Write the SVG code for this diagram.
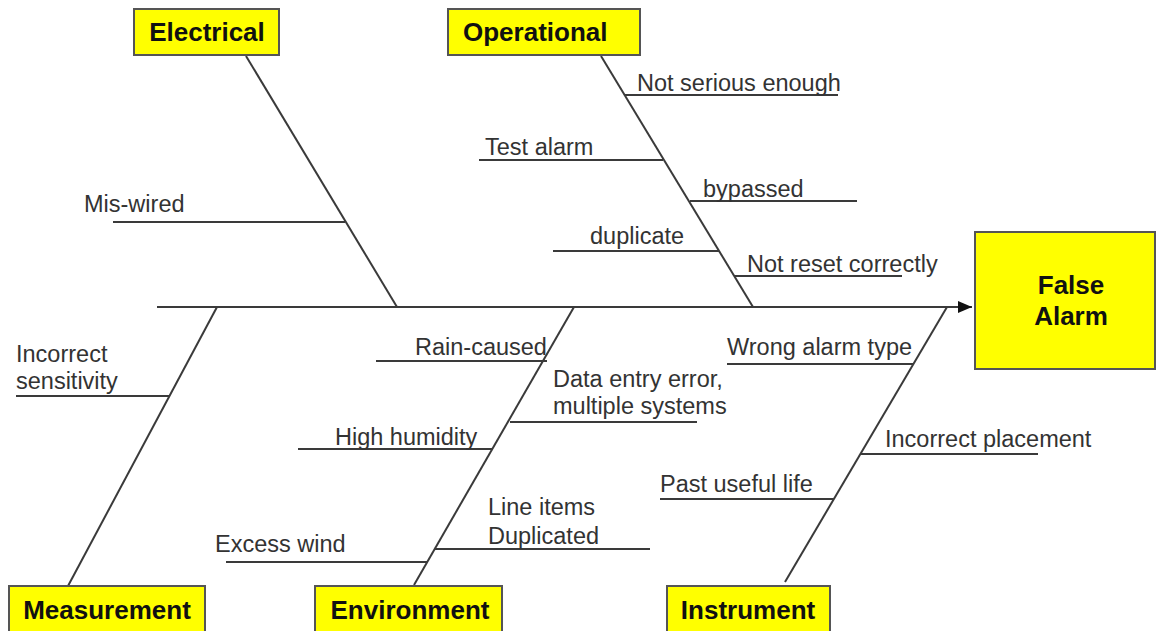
<svg xmlns="http://www.w3.org/2000/svg" width="1156" height="631" viewBox="0 0 1156 631">
  <defs>
    <style>
      .box { fill: #ffff00; stroke: #555555; stroke-width: 2; }
      .title { font-family: "Liberation Sans", Arial, sans-serif; font-weight: bold; font-size: 26px; fill: #111111; }
      .lbl { font-family: "Liberation Sans", Arial, sans-serif; font-size: 23.5px; fill: #333333; }
      .ln { stroke: #3a3a3a; stroke-width: 2; fill: none; }
    </style>
    <marker id="arrow" markerWidth="14" markerHeight="12" refX="14" refY="6" orient="auto" markerUnits="userSpaceOnUse">
      <path d="M0,0 L14,6 L0,12 Z" fill="#111111"/>
    </marker>
  </defs>
  <rect width="1156" height="631" fill="#ffffff"/>

  <!-- spine, category bones and cause lines -->
  <g id="connectors">
    <line class="ln" x1="157" y1="307" x2="972" y2="307" marker-end="url(#arrow)"/>

    <!-- Electrical -->
    <line class="ln" x1="246" y1="56" x2="397" y2="307"/>
    <line class="ln" x1="113" y1="222" x2="345" y2="222"/>

    <!-- Operational -->
    <line class="ln" x1="601" y1="56" x2="753" y2="307"/>
    <line class="ln" x1="625" y1="95" x2="838" y2="95"/>
    <line class="ln" x1="479" y1="160" x2="663" y2="160"/>
    <line class="ln" x1="690" y1="201" x2="857" y2="201"/>
    <line class="ln" x1="553" y1="251" x2="719" y2="251"/>
    <line class="ln" x1="734" y1="276" x2="902" y2="276"/>

    <!-- Measurement -->
    <line class="ln" x1="217" y1="307" x2="68" y2="586"/>
    <line class="ln" x1="16" y1="396" x2="169" y2="396"/>

    <!-- Environment -->
    <line class="ln" x1="574" y1="307" x2="414" y2="585"/>
    <line class="ln" x1="376" y1="361" x2="547" y2="361"/>
    <line class="ln" x1="510" y1="422" x2="697" y2="422"/>
    <line class="ln" x1="298" y1="449" x2="492" y2="449"/>
    <line class="ln" x1="435" y1="549" x2="650" y2="549"/>
    <line class="ln" x1="226" y1="562" x2="427" y2="562"/>

    <!-- Instrument -->
    <line class="ln" x1="947" y1="307" x2="785" y2="582"/>
    <line class="ln" x1="727" y1="364" x2="913" y2="364"/>
    <line class="ln" x1="860" y1="454" x2="1038" y2="454"/>
    <line class="ln" x1="660" y1="499" x2="834" y2="499"/>
  </g>

  <!-- cause labels -->
  <g id="causes">
    <text class="lbl" x="84" y="212">Mis-wired</text>
    <text class="lbl" x="637" y="91">Not serious enough</text>
    <text class="lbl" x="485" y="155">Test alarm</text>
    <text class="lbl" x="703" y="197">bypassed</text>
    <text class="lbl" x="590" y="244">duplicate</text>
    <text class="lbl" x="747" y="272">Not reset correctly</text>
    <text class="lbl" x="16" y="362">Incorrect</text>
    <text class="lbl" x="16" y="389">sensitivity</text>
    <text class="lbl" x="415" y="355">Rain-caused</text>
    <text class="lbl" x="553" y="387">Data entry error,</text>
    <text class="lbl" x="553" y="414">multiple systems</text>
    <text class="lbl" x="335" y="445">High humidity</text>
    <text class="lbl" x="488" y="515">Line items</text>
    <text class="lbl" x="488" y="544">Duplicated</text>
    <text class="lbl" x="215" y="552">Excess wind</text>
    <text class="lbl" x="727" y="355">Wrong alarm type</text>
    <text class="lbl" x="885" y="447">Incorrect placement</text>
    <text class="lbl" x="660" y="492">Past useful life</text>
  </g>

  <g id="electrical">
    <rect class="box" x="134" y="9" width="145" height="46"/>
    <text class="title" x="207" y="41" text-anchor="middle">Electrical</text>
  </g>
  <g id="operational">
    <rect class="box" x="448" y="9" width="192" height="46"/>
    <text class="title" x="463" y="41">Operational</text>
  </g>
  <g id="false-alarm">
    <rect class="box" x="975" y="232" width="180" height="137"/>
    <text class="title" x="1071" y="294" text-anchor="middle">False</text>
    <text class="title" x="1071" y="325" text-anchor="middle">Alarm</text>
  </g>
  <g id="measurement">
    <rect class="box" x="9" y="586" width="196" height="60"/>
    <text class="title" x="107" y="619" text-anchor="middle">Measurement</text>
  </g>
  <g id="environment">
    <rect class="box" x="315" y="586" width="187" height="60"/>
    <text class="title" x="410" y="619" text-anchor="middle">Environment</text>
  </g>
  <g id="instrument">
    <rect class="box" x="667" y="586" width="163" height="60"/>
    <text class="title" x="748" y="619" text-anchor="middle">Instrument</text>
  </g>
</svg>
